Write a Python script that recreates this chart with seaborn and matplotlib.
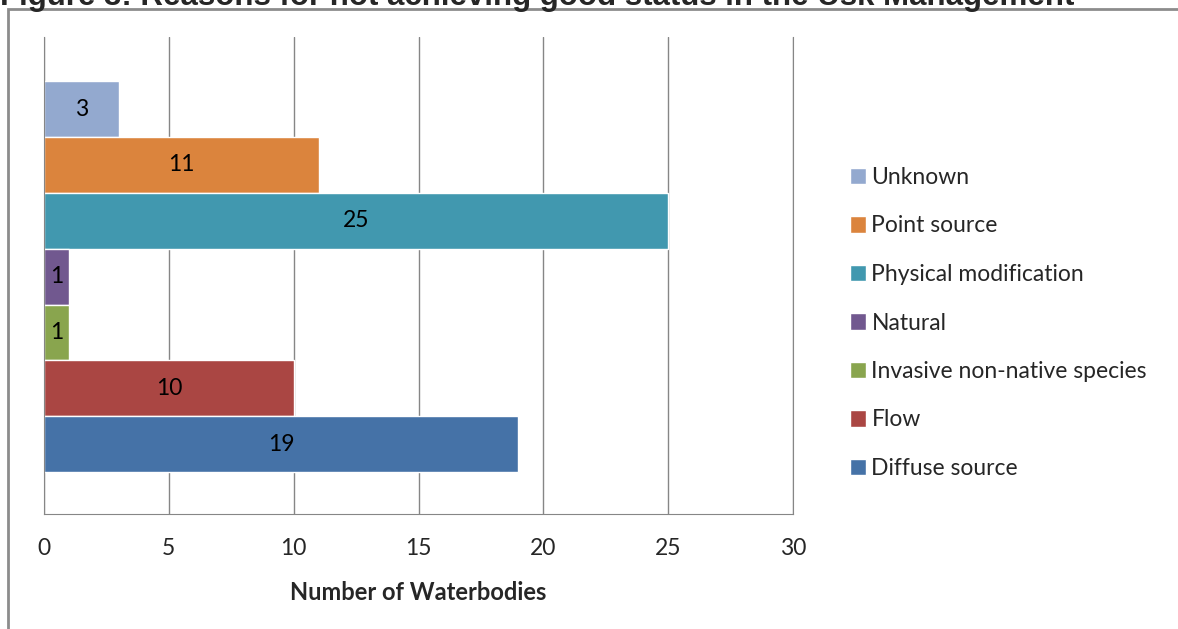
import pandas as pd
import seaborn as sns
import matplotlib.pyplot as plt
from matplotlib.patches import Rectangle

# Reasons (top to bottom as drawn) and counts
reasons = ["Unknown", "Point source", "Physical modification", "Natural",
           "Invasive non-native species", "Flow", "Diffuse source"]
counts = [3, 11, 25, 1, 1, 10, 19]
colors = ["#93A9CF", "#DB843D", "#4198AF", "#71588F", "#89A54E", "#AA4643", "#4572A7"]
x_ticks = [0, 5, 10, 15, 20, 25, 30]

df = pd.DataFrame({"reason": reasons, "count": counts})

sns.set_style("white")
plt.rcParams['font.family'] = ['Lato', 'DejaVu Sans']

fig = plt.figure(figsize=(11.78, 6.29), dpi=100)
ax = fig.add_axes([44 / 1178, 1 - 514 / 629, (793 - 44) / 1178, (514 - 37) / 629])

sns.barplot(data=df, x="count", y="reason", hue="reason", order=reasons,
            hue_order=reasons, palette=colors, width=1.0, dodge=False,
            orient="h", legend=False, ax=ax, saturation=1)

for c in ax.containers:
    ax.bar_label(c, label_type="center", fontsize=16.5, color="black")

ax.set_xlim(0, 30)
ax.set_ylim(7.25, -1.29)
ax.set_xticks(x_ticks)
ax.set_xticklabels([str(t) for t in x_ticks], fontsize=16.5)
ax.set_yticks([])
ax.set_ylabel("")
ax.set_xlabel("Number of Waterbodies", fontsize=17, fontweight="bold", labelpad=16)
ax.grid(axis="x", color="#868686", lw=1)
ax.set_axisbelow(True)
ax.spines["top"].set_visible(False)
for s in ["bottom", "left", "right"]:
    ax.spines[s].set_color("#868686")
ax.tick_params(axis="x", direction="out", length=8, color="#868686", pad=9)

# legend
handles = [Rectangle((0, 0), 1, 1, facecolor=c) for c in colors]
fig.legend(handles, reasons, loc="center left", bbox_to_anchor=(829 / 1178, 1 - 323 / 629),
           frameon=False, fontsize=16.5, handlelength=0.7, handleheight=0.7,
           handletextpad=0.25, labelspacing=1.2)

# outer frame and clipped title
fig.patches.append(Rectangle((8 / 1178, -0.1), 1.2, 1.1 - 9 / 629, transform=fig.transFigure,
                             fill=False, edgecolor="#8c8c8c", lw=2))
fig.text(0.0, 1 - 5 / 629, "Figure 3: Reasons for not achieving good status in the Usk Management",
         fontsize=22.5, fontweight="bold", family="Liberation Sans", va="baseline", ha="left")

plt.savefig("out.png", dpi=100)
